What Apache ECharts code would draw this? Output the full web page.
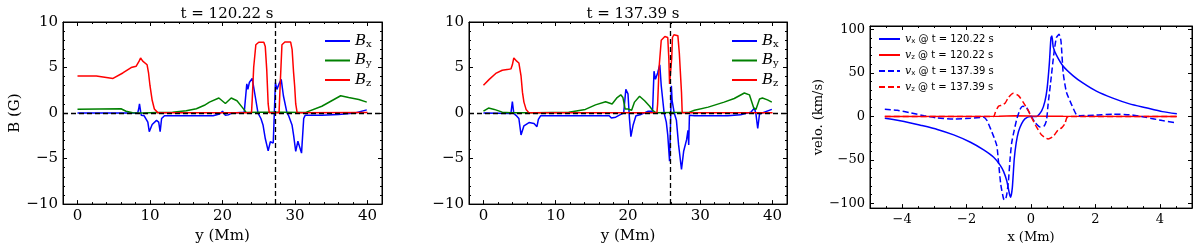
<!DOCTYPE html>
<html><head><meta charset="utf-8">
<script src="https://cdn.jsdelivr.net/npm/echarts@6/dist/echarts.min.js"></script>
<style>html,body{margin:0;padding:0;background:#fff}#c{width:1200px;height:249px}</style>
</head><body><div id="c"></div>
<script>
// ---------- DATA ----------
const titles = ['t = 120.22 s', 't = 137.39 s'];
const vline1 = 27.27, vline2 = 25.88;
// Panel 1 (t = 120.22 s): [y (Mm), B (G)]
const bx1 = [[0,0],[8.3,0],[8.45,0.5],[8.55,1.0],[8.7,0.2],[8.8,-0.25],[9.2,-0.3],[9.7,-1.0],[9.9,-2.05],[10.3,-1.25],[10.9,-0.8],[11.2,-1.0],[11.4,-2.05],[11.6,-0.6],[12.0,-0.3],[18.7,-0.3],[19.6,-0.1],[20.0,0.2],[20.1,0.3],[20.4,-0.25],[20.8,-0.2],[21.3,0],[23.0,0.1],[23.2,0.15],[23.35,3.2],[23.5,2.6],[23.7,3.35],[24.1,3.8],[24.5,1.9],[24.9,0],[25.3,-0.6],[25.6,-1.35],[25.9,-2.8],[26.3,-4.15],[26.6,-3.15],[26.8,-2.95],[27.0,-3.3],[27.15,0],[27.3,3.35],[27.5,2.6],[27.8,3.2],[28.1,3.7],[28.4,1.9],[28.9,0],[29.1,-0.25],[29.6,-1.35],[29.8,-2.4],[30.1,-4.2],[30.4,-3.1],[30.6,-2.95],[30.9,-4.4],[31.2,-0.6],[31.4,-0.25],[33.7,-0.25],[36,-0.15],[38.3,0],[39.9,0.35]];
const by1 = [[0,0.43],[3,0.45],[6.0,0.47],[6.7,0.2],[7.6,0.03],[9,0.0],[11,0.05],[13.1,0.1],[15,0.25],[16.4,0.47],[17.5,0.85],[18.2,1.2],[19.5,1.65],[20.4,1.05],[21.2,1.65],[22.0,1.35],[22.7,0.65],[23.3,0.05],[25,0.08],[28,0.08],[31.4,0.05],[31.6,0.02],[33.7,0.75],[36.3,1.9],[37.4,1.7],[38.8,1.48],[39.9,1.2]];
const bz1 = [[0,4.07],[2.6,4.07],[4.9,3.8],[6.25,4.4],[7.4,5.0],[8.1,5.15],[8.5,5.7],[8.7,6.05],[9.0,5.7],[9.6,5.3],[9.8,4.4],[10.0,3.0],[10.3,1.4],[10.6,0.45],[11.1,0.02],[15,0.02],[24.0,0.02],[24.1,1.5],[24.3,5],[24.6,7.5],[25.0,7.78],[25.7,7.78],[25.9,7.3],[26.1,4.8],[26.3,1.0],[26.45,0.02],[27.8,0.02],[27.95,3],[28.2,7.5],[28.6,7.8],[29.4,7.8],[29.6,7.0],[29.8,4.5],[29.95,3.0],[30.1,1],[30.3,0.02],[40,0.05]];
// Panel 2 (t = 137.39 s)
const bx2 = [[0,0],[3.8,-0.05],[4.0,1.25],[4.2,-0.05],[4.5,-0.25],[4.9,-0.6],[5.2,-2.4],[5.6,-1.4],[6.3,-1.05],[7.0,-1.15],[7.4,-1.5],[7.6,-0.7],[7.9,-0.3],[17.4,-0.3],[17.7,-0.55],[18.3,-0.45],[19.0,-0.15],[19.4,0],[19.7,2.6],[19.9,2.45],[20.0,2.1],[20.2,-0.6],[20.4,-2.6],[20.7,-1.35],[21.1,-0.3],[21.8,-0.15],[22.8,0.2],[23.4,0.2],[23.6,4.6],[23.8,3.7],[24.1,4.4],[24.4,5.3],[24.6,3.0],[25.0,0],[25.3,-1.0],[25.5,-2.4],[25.75,-5.3],[25.9,-0.6],[26.0,3.0],[26.1,1.4],[26.4,0],[26.7,-0.8],[27.0,-3.5],[27.4,-6.2],[27.7,-4.2],[28.1,-2.95],[28.3,-1.9],[28.4,-3.5],[28.5,-0.25],[29.2,-0.3],[33.8,-0.3],[35.6,-0.2],[37.0,0.1],[37.5,0.55],[37.7,-0.1],[37.95,-1.7],[38.2,-0.1],[38.4,0],[39.9,0.4]];
const by2 = [[0,0.2],[0.7,0.55],[1.5,0.4],[2.6,0.1],[3.8,0.02],[7.2,0.03],[11.8,0.1],[14.1,0.4],[15.5,0.9],[16.9,1.25],[17.8,1.0],[18.5,1.7],[19.0,2.0],[19.3,1.7],[19.6,0.45],[20.0,0.45],[20.5,0.3],[20.7,0.35],[20.9,1.2],[21.6,1.85],[22.3,1.35],[23.0,0.75],[23.4,0.3],[23.9,0.02],[28.5,0.1],[29.2,0.3],[31.1,0.65],[33.3,1.2],[34.7,1.6],[36.1,2.2],[36.8,2.0],[37.4,0.55],[37.7,0.4],[38.2,1.55],[38.6,1.65],[39.3,1.45],[39.9,1.2]];
const bz2 = [[0,3.06],[0.8,3.7],[1.7,4.35],[2.6,4.7],[3.5,4.8],[3.8,4.85],[4.0,5.3],[4.2,6.05],[4.6,5.7],[4.9,5.5],[5.2,4.07],[5.4,2.27],[5.6,1.2],[5.9,0.4],[6.3,0.02],[24.0,0.02],[24.1,1],[24.3,5],[24.6,8.0],[25.1,8.4],[25.5,8.3],[25.65,6],[25.75,3.2],[25.95,3.2],[26.05,6],[26.15,8.3],[26.35,8.6],[26.9,8.5],[27.1,6.6],[27.4,2.3],[27.5,0.02],[40,0.02]];
// Panel 3: [x (Mm), velo (km/s)]
const vx1 = [[-4.54,-2.2],[-3.94,-5.8],[-3.43,-10.2],[-2.91,-15],[-2.4,-21.3],[-1.88,-29.7],[-1.47,-38.5],[-1.16,-47],[-0.96,-56],[-0.85,-63.5],[-0.75,-74.5],[-0.67,-89],[-0.63,-93],[-0.58,-82],[-0.52,-49],[-0.46,-30.5],[-0.39,-17.6],[-0.29,-8.4],[-0.19,-2.9],[-0.03,0],[0.17,0],[0.33,6.3],[0.43,17],[0.5,32],[0.57,61],[0.62,90.7],[0.65,92.5],[0.69,80],[0.79,70.5],[1.0,57.7],[1.31,46.7],[1.62,38.2],[2.03,29],[2.54,21],[3.06,14.4],[3.57,9.9],[4.08,5.5],[4.53,3.0]];
const vz1 = [[-4.54,0],[-1,0.2],[-0.5,0.8],[0,0.5],[0.5,0.3],[1,0.1],[4.53,0]];
const vx2 = [[-4.54,8.1],[-4.15,7.0],[-3.73,4.1],[-3.32,0.8],[-2.91,-1.8],[-2.4,-2.9],[-1.88,-2.2],[-1.47,-1],[-1.37,-4.7],[-1.24,-15.7],[-1.14,-25],[-1.06,-34],[-1.01,-52],[-0.94,-78],[-0.85,-95],[-0.8,-96],[-0.75,-89],[-0.7,-74],[-0.65,-49],[-0.6,-30.5],[-0.52,-15.7],[-0.44,-2.9],[-0.34,8.1],[-0.26,11.8],[-0.15,10.7],[-0.05,4.4],[0,0.8],[0.12,-6.6],[0.28,-12.1],[0.4,-11.4],[0.48,-4.8],[0.53,13.6],[0.61,39],[0.71,72],[0.79,90.7],[0.87,94.4],[0.93,87],[1.0,50],[1.1,28],[1.26,13.6],[1.41,1.9],[1.51,0.8],[2.03,1.5],[2.54,2.6],[3.06,1.9],[3.57,-1.1],[4.08,-4.8],[4.53,-7.7]];
const vz2 = [[-4.54,0],[-1.16,0],[-1.11,4.4],[-1.01,11.8],[-0.9,12.9],[-0.8,15.5],[-0.7,21.7],[-0.55,26.5],[-0.39,23.9],[-0.24,16.2],[-0.08,6.3],[0,0],[0.17,-12.1],[0.33,-21.3],[0.53,-26],[0.69,-23],[0.84,-15.7],[0.95,-13.2],[1.05,-8.4],[1.12,-1],[1.2,0],[4.53,0]];
// Tick values
const bTicksY = [-10,-5,0,5,10];
const bTicksYMinor = [-9,-8,-7,-6,-4,-3,-2,-1,1,2,3,4,6,7,8,9];
const yMmTicks = [0,10,20,30,40];
const yMmTicksMinor = [-2,2,4,6,8,12,14,16,18,22,24,26,28,32,34,36,38,42];
const vTicks = [-100,-50,0,50,100];
const vTicksMinor = [-90,-80,-70,-60,-40,-30,-20,-10,10,20,30,40,60,70,80,90];
const xMmTicks = [-4,-2,0,2,4];
const xMmTicksMinor = [-5,-4.5,-3.5,-3,-2.5,-1.5,-1,-0.5,0.5,1,1.5,2.5,3,3.5,4.5,5];

// ---------- CHART ----------
const SERIF = 'DejaVu Serif';
const xAxes = [], yAxes = [];
function fmt(v){ return String(v).replace('-', '\u2212'); }
function addAxes(list, grid, posMain, posOpp, min, max, majors, minors, fs, name, nameGap, nameFs){
  const mk = (pos, showLine, tickLen, ticks, label) => {
    const a = {type:'value', gridIndex:grid, min:min, max:max, position:pos, splitLine:{show:false},
      axisLine:{show:showLine, onZero:false, lineStyle:{color:'#000', width:1}},
      axisTick:{show:true, inside:true, length:tickLen, customValues:ticks.slice(), lineStyle:{color:'#000', width:1}},
      axisLabel:label ? {show:true, customValues:ticks.slice(), formatter:fmt, fontFamily:SERIF, fontSize:fs, color:'#000', margin:5} : {show:false}};
    if (label) {
      a.name = name; a.nameLocation = 'middle'; a.nameGap = nameGap;
      a.nameTextStyle = {fontFamily:SERIF, fontSize:nameFs, color:'#000'};
    }
    return a;
  };
  const idx = list.length;
  list.push(mk(posMain, true, 4, majors, true));
  list.push(mk(posMain, false, 2, minors, false));
  list.push(mk(posOpp, true, 4, majors, false));
  list.push(mk(posOpp, false, 2, minors, false));
  return idx;
}
const X1 = addAxes(xAxes,0,'bottom','top',-2,42,yMmTicks,yMmTicksMinor,15,'y (Mm)',20,15);
const Y1 = addAxes(yAxes,0,'left','right',-10,10,bTicksY,bTicksYMinor,15,'B (G)',36,15);
const X2 = addAxes(xAxes,1,'bottom','top',-2,42,yMmTicks,yMmTicksMinor,15,'y (Mm)',20,15);
const Y2 = addAxes(yAxes,1,'left','right',-10,10,bTicksY,bTicksYMinor,15,'',36,15);
const X3 = addAxes(xAxes,2,'bottom','top',-5,5,xMmTicks,xMmTicksMinor,13,'x (Mm)',14,13);
const Y3 = addAxes(yAxes,2,'left','right',-105.5,104,vTicks,vTicksMinor,13,'velo. (km/s)',33,13);

const BLUE='#0000ff', GREEN='#008000', RED='#ff0000';
function line(name, data, xi, yi, color, dashed, smooth){
  return {type:'line', name:name, data:data, xAxisIndex:xi, yAxisIndex:yi, symbol:'none', showSymbol:false,
    smooth: smooth || false,
    lineStyle:{color:color, width:1.5, type: dashed ? [6,3] : 'solid'}, itemStyle:{color:color}, z:2, silent:true};
}
function refLines(xi, yi, vx){
  const d = [{yAxis:0}];
  if (vx !== null) d.push({xAxis:vx});
  return {type:'line', name:'ref', data:[], xAxisIndex:xi, yAxisIndex:yi, z:10, silent:true,
    markLine:{symbol:'none', silent:true, animation:false, label:{show:false},
      lineStyle:{color:'#000', type:[5,3], width:1.3}, data:d}};
}
const richB = {
  b:{fontFamily:SERIF, fontStyle:'italic', fontSize:15, color:'#000', lineHeight:16},
  s:{fontFamily:SERIF, fontSize:10, color:'#000', lineHeight:16, verticalAlign:'bottom', padding:[4,0,0,0]}
};
const richV = {
  v:{fontFamily:SERIF, fontStyle:'italic', fontSize:11, color:'#000', lineHeight:12},
  s:{fontFamily:'DejaVu Sans', fontSize:7, color:'#000', lineHeight:12, verticalAlign:'bottom', padding:[3,0,0,0]},
  t:{fontFamily:'DejaVu Sans', fontSize:10, color:'#000', lineHeight:12}
};
const vLabels = {vx1:['x','120.22'], vz1:['z','120.22'], vx2:['x','137.39'], vz2:['z','137.39']};
function bLegend(left){
  return {data:['Bx','By','Bz'], left:left, top:28.5, orient:'vertical', itemWidth:25, itemHeight:14, itemGap:4,
    selectedMode:false, itemStyle:{opacity:0, borderWidth:0}, formatter:n => '{b|B}{s|' + n.slice(1) + '}', textStyle:{rich:richB}};
}
const option = {
  animation:false,
  title:[
    {text:titles[0], left:222, top:2, textAlign:'center', textStyle:{fontFamily:SERIF, fontSize:15, fontWeight:'normal', color:'#000'}},
    {text:titles[1], left:628, top:2, textAlign:'center', textStyle:{fontFamily:SERIF, fontSize:15, fontWeight:'normal', color:'#000'}}
  ],
  grid:[
    {left:63, top:22, width:319, height:185, show:true, borderColor:'#000', borderWidth:1, backgroundColor:'transparent'},
    {left:469, top:22, width:318, height:185, show:true, borderColor:'#000', borderWidth:1, backgroundColor:'transparent'},
    {left:870, top:26, width:322, height:190, show:true, borderColor:'#000', borderWidth:1, backgroundColor:'transparent'}
  ],
  legend:[
    bLegend(319), bLegend(726),
    {data:['vx1','vz1','vx2','vz2'], left:873, top:28.5, orient:'vertical', itemWidth:21, itemHeight:12, itemGap:4.5,
     selectedMode:false, itemStyle:{opacity:0, borderWidth:0},
     formatter:n => '{v|v}{s|' + vLabels[n][0] + '}{t| @ t = ' + vLabels[n][1] + ' s}', textStyle:{rich:richV}}
  ],
  xAxis:xAxes, yAxis:yAxes,
  series:[
    line('Bx', bx1, X1, Y1, BLUE), line('By', by1, X1, Y1, GREEN), line('Bz', bz1, X1, Y1, RED),
    refLines(X1, Y1, vline1),
    line('Bx', bx2, X2, Y2, BLUE), line('By', by2, X2, Y2, GREEN), line('Bz', bz2, X2, Y2, RED),
    refLines(X2, Y2, vline2),
    line('vx1', vx1, X3, Y3, BLUE, false, 0.2), line('vz1', vz1, X3, Y3, RED),
    line('vx2', vx2, X3, Y3, BLUE, true, 0.2), line('vz2', vz2, X3, Y3, RED, true, 0.2)
  ]
};
const chart = echarts.init(document.getElementById('c'), null, {renderer:'canvas'});
chart.setOption(option);
</script></body></html>
